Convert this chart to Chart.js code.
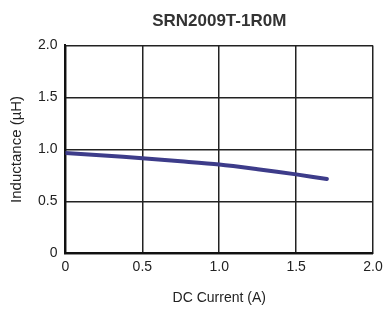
<!DOCTYPE html>
<html>
<head>
<meta charset="utf-8">
<script src="https://cdn.jsdelivr.net/npm/chart.js@4/dist/chart.umd.min.js"></script>
<style>
  html, body { margin: 0; padding: 0; background: #fff; }
  #wrap { width: 383px; height: 309px; }
</style>
</head>
<body>
<div id="wrap"><canvas id="c"></canvas></div>
<script>
'use strict';

// ── DATA ──
const currentA = [0, 0.25, 0.5, 0.75, 1.0, 1.25, 1.5, 1.7];
const inductanceUH = [0.965, 0.942, 0.914, 0.886, 0.855, 0.81, 0.76, 0.715];
const xTicks = [0, 0.5, 1.0, 1.5, 2.0];
const yTicks = [0, 0.5, 1.0, 1.5, 2.0];

const FONT = "'Liberation Sans Narrow', 'Liberation Sans', Arial, sans-serif";
const fmt = v => (v === 0 ? '0' : v.toFixed(1));

new Chart(document.getElementById('c'), {
  type: 'scatter',
  data: {
    datasets: [{
      data: currentA.map((x, i) => ({ x, y: inductanceUH[i] })),
      showLine: true,
      borderColor: '#3d3c8a',
      borderWidth: 4,
      pointRadius: 0,
      tension: 0.3,
      borderCapStyle: 'round',
    }],
  },
  options: {
    responsive: true,
    maintainAspectRatio: false,
    animation: false,
    layout: { padding: { top: 5, right: 0, left: 4, bottom: 0 } },
    plugins: {
      legend: { display: false },
      tooltip: { enabled: false },
      title: {
        display: true,
        text: 'SRN2009T-1R0M',
        fullSize: false,
        color: '#333',
        font: { family: "'Liberation Sans', Arial, sans-serif", size: 17, weight: 'bold' },
        padding: { top: 6, bottom: 14 },
      },
    },
    scales: {
      x: {
        type: 'linear',
        min: 0, max: 2,
        afterBuildTicks: ax => { ax.ticks = xTicks.map(v => ({ value: v })); },
        // keep the right edge tight, like the reference
        afterFit: ax => { ax.paddingRight = 10; },
        ticks: { color: '#222', font: { family: FONT, size: 14 }, padding: 5, callback: fmt, maxRotation: 0 },
        grid: { color: '#222', lineWidth: 1.5, drawTicks: false },
        border: { color: '#111', width: 2 },
        title: { display: true, text: 'DC Current (A)', color: '#222', font: { family: FONT, size: 14 }, padding: { top: 10, bottom: 2 } },
      },
      y: {
        type: 'linear',
        min: 0, max: 2,
        afterBuildTicks: ax => { ax.ticks = yTicks.map(v => ({ value: v })); },
        ticks: { color: '#222', font: { family: FONT, size: 14 }, padding: 8, callback: fmt },
        grid: { color: '#222', lineWidth: 1.5, drawTicks: false },
        border: { color: '#111', width: 2 },
        title: { display: true, text: 'Inductance (\u00b5H)', color: '#222', font: { family: FONT, size: 15 }, padding: { bottom: 4 } },
      },
    },
  },
});
</script>
</body>
</html>
